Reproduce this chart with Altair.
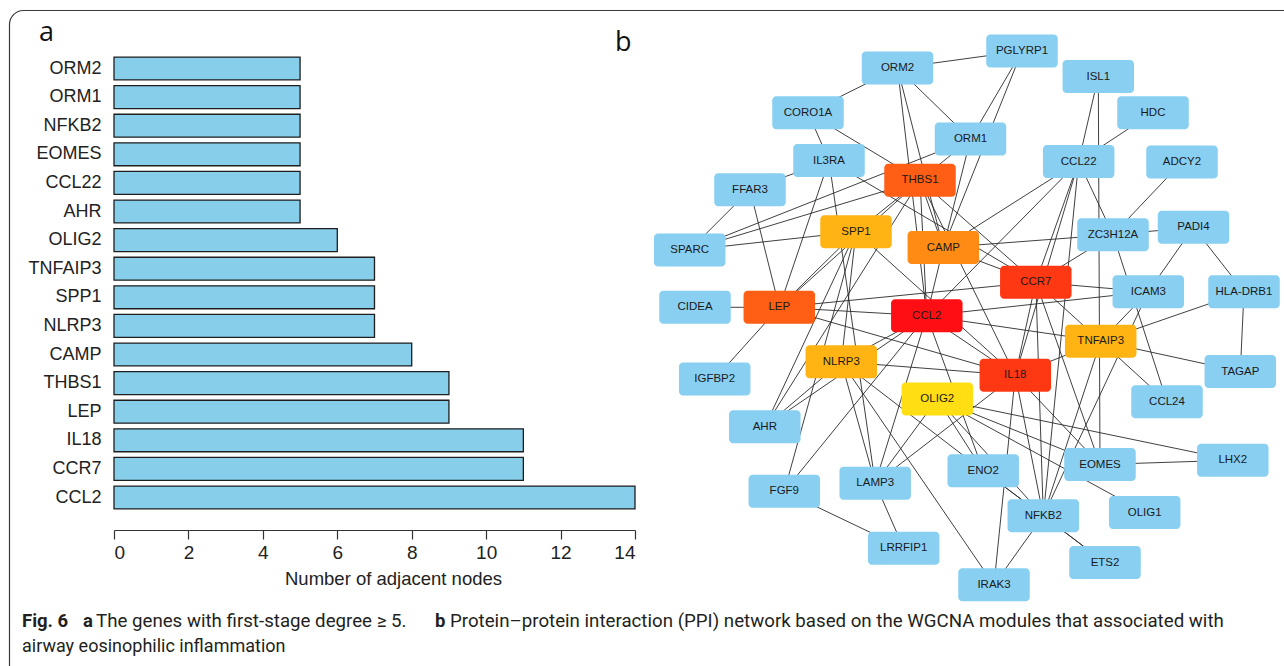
import altair as alt
import pandas as pd

# ---------------- Panel a: bar chart data ----------------
genes = ["ORM2", "ORM1", "NFKB2", "EOMES", "CCL22", "AHR", "OLIG2", "TNFAIP3",
         "SPP1", "NLRP3", "CAMP", "THBS1", "LEP", "IL18", "CCR7", "CCL2"]
degree = [5, 5, 5, 5, 5, 5, 6, 7, 7, 7, 8, 9, 9, 11, 11, 14]
x_ticks = [0, 2, 4, 6, 8, 10, 12, 14]

# ---------------- Panel b: network layout ----------------
node_names = ["PGLYRP1", "ORM2", "ISL1", "CORO1A", "HDC", "ORM1", "IL3RA", "CCL22",
              "ADCY2", "THBS1", "FFAR3", "PADI4", "SPP1", "ZC3H12A", "CAMP", "SPARC",
              "CCR7", "ICAM3", "HLA-DRB1", "CIDEA", "LEP", "CCL2", "TNFAIP3", "NLRP3",
              "TAGAP", "IL18", "IGFBP2", "OLIG2", "CCL24", "AHR", "LHX2", "EOMES",
              "ENO2", "LAMP3", "FGF9", "OLIG1", "NFKB2", "LRRFIP1", "ETS2", "IRAK3"]
node_x = [1022, 897.5, 1098.3, 808, 1153, 970.5, 829, 1078.7,
          1182, 920, 750, 1193.5, 856, 1113, 943.3, 689.7,
          1035.8, 1148.3, 1244, 695, 779.3, 926.8, 1100.7, 841.3,
          1240.3, 1015.3, 714.7, 937.3, 1167, 764.8, 1232.8, 1100,
          983.2, 875.2, 784.3, 1144.7, 1043.3, 903.7, 1105, 994]
node_y = [51, 68, 76.5, 112.7, 112.7, 139, 160.5, 161.5,
          162, 180.3, 189.7, 227.3, 231.7, 234.7, 247.5, 250,
          282.2, 291.7, 291.7, 307.3, 307.3, 315.8, 341.2, 361.8,
          371.5, 375.3, 379, 399, 401.8, 426.7, 460.2, 464.5,
          470.7, 483.3, 491.3, 512.5, 515.8, 548.3, 562.5, 584.8]

# hub genes are coloured by their degree class (others "low")
hub_class = {"CCL2": "14", "CCR7": "11", "IL18": "11", "LEP": "9", "THBS1": "9",
             "CAMP": "8", "SPP1": "7", "NLRP3": "7", "TNFAIP3": "7", "OLIG2": "6"}
class_domain = ["14", "11", "9", "8", "7", "6", "low"]
class_colors = ["#FF0F14", "#FF3814", "#FF5E14", "#FF8A14", "#FFB414", "#FFDE14", "#89CFF2"]

edge_pairs = [
    ("ORM2", "PGLYRP1"), ("ORM2", "CORO1A"), ("ORM2", "ORM1"), ("ORM2", "CAMP"), ("ORM2", "CCL2"),
    ("PGLYRP1", "ORM1"), ("PGLYRP1", "CAMP"),
    ("CORO1A", "IL3RA"), ("CORO1A", "THBS1"),
    ("IL3RA", "FFAR3"), ("IL3RA", "LEP"), ("IL3RA", "LAMP3"), ("IL3RA", "CCR7"),
    ("FFAR3", "SPARC"), ("FFAR3", "LEP"),
    ("SPARC", "SPP1"), ("SPARC", "THBS1"), ("SPARC", "ORM1"),
    ("ORM1", "THBS1"), ("ORM1", "CAMP"),
    ("CIDEA", "LEP"), ("IGFBP2", "LEP"),
    ("ISL1", "CCL22"), ("ISL1", "EOMES"), ("HDC", "CCL22"), ("ADCY2", "ZC3H12A"),
    ("CCL22", "CAMP"), ("CCL22", "CCL2"), ("CCL22", "IL18"), ("CCL22", "CCR7"),
    ("CCL22", "NFKB2"), ("CCL22", "ZC3H12A"),
    ("ZC3H12A", "PADI4"), ("ZC3H12A", "CAMP"), ("ZC3H12A", "CCR7"), ("ZC3H12A", "CCL24"),
    ("PADI4", "ICAM3"), ("PADI4", "HLA-DRB1"),
    ("HLA-DRB1", "TAGAP"), ("HLA-DRB1", "TNFAIP3"), ("TAGAP", "TNFAIP3"),
    ("TNFAIP3", "CCL24"), ("TNFAIP3", "CCR7"), ("TNFAIP3", "IL18"), ("TNFAIP3", "CCL2"),
    ("TNFAIP3", "NFKB2"), ("TNFAIP3", "ICAM3"),
    ("ICAM3", "CCR7"), ("ICAM3", "CCL2"), ("ICAM3", "NFKB2"),
    ("EOMES", "LHX2"), ("EOMES", "OLIG2"), ("EOMES", "CCR7"), ("EOMES", "IL18"),
    ("OLIG2", "OLIG1"), ("OLIG2", "LHX2"), ("OLIG2", "NFKB2"), ("OLIG2", "ENO2"), ("OLIG2", "LAMP3"),
    ("NFKB2", "ETS2"), ("NFKB2", "IRAK3"), ("NFKB2", "ENO2"),
    ("ENO2", "ETS2"), ("ENO2", "NLRP3"), ("ENO2", "CCL2"),
    ("IL18", "IRAK3"), ("IL18", "THBS1"), ("IL18", "CCR7"), ("IL18", "LEP"), ("IL18", "NLRP3"),
    ("IL18", "CCL2"), ("IL18", "LAMP3"), ("IL18", "NFKB2"), ("IL18", "SPP1"),
    ("LAMP3", "LRRFIP1"), ("LAMP3", "NLRP3"), ("LAMP3", "CCL2"),
    ("FGF9", "LRRFIP1"), ("FGF9", "SPP1"), ("FGF9", "CCL2"),
    ("AHR", "NLRP3"), ("AHR", "CCL2"), ("AHR", "SPP1"), ("AHR", "THBS1"),
    ("NLRP3", "SPP1"), ("NLRP3", "CCL2"), ("NLRP3", "IRAK3"),
    ("LEP", "CCL2"), ("LEP", "CCR7"), ("LEP", "THBS1"), ("LEP", "SPP1"),
    ("THBS1", "SPP1"), ("THBS1", "CAMP"), ("THBS1", "CCL2"), ("THBS1", "CCR7"),
    ("CAMP", "CCR7"), ("CAMP", "CCL2"), ("CCR7", "NFKB2"),
]
edge_src = [a for a, b in edge_pairs]
edge_dst = [b for a, b in edge_pairs]

# ---------------- tables ----------------
bar_df = pd.DataFrame({"gene": genes, "degree": degree})

nodes_df = pd.DataFrame({"name": node_names, "x": node_x, "y": node_y})
nodes_df["cls"] = [hub_class.get(n, "low") for n in node_names]
pos = nodes_df.set_index("name")
edges_df = pd.DataFrame({
    "x1": [pos.loc[s, "x"] for s in edge_src],
    "y1": [pos.loc[s, "y"] for s in edge_src],
    "x2": [pos.loc[d, "x"] for d in edge_dst],
    "y2": [pos.loc[d, "y"] for d in edge_dst],
})

W, H = 1284, 666
FONT = "Liberation Sans"
CAP_FONT = "Roboto"

# ---------------- Panel a ----------------
bars = alt.Chart(bar_df).mark_bar(
    fill="#87CEEB", stroke="#1e1e1e", strokeWidth=1.3
).encode(
    x=alt.X("degree:Q",
            scale=alt.Scale(domain=[0, 14], range=[114, 635], nice=False),
            axis=alt.Axis(values=x_ticks, offset=-136, tickSize=9, grid=False,
                          domainColor="#333", tickColor="#333", domainWidth=1.2, tickWidth=1.2,
                          labelFont=FONT, labelFontSize=19, labelColor="#222", labelPadding=4,
                          title="Number of adjacent nodes", titleFont=FONT, titleFontSize=18.5,
                          titleFontWeight="normal", titleColor="#222", titlePadding=7,
                          titleX=393)),
    y=alt.Y("gene:N", sort=genes,
            scale=alt.Scale(range=[54.2, 511.8], paddingInner=0.2, paddingOuter=0.1),
            axis=alt.Axis(offset=-114, ticks=False, domain=False, labelPadding=13,
                          labelFont=FONT, labelFontSize=18, labelColor="#222", title=None)),
)

# ---------------- Panel b ----------------
px_x = alt.Scale(domain=[0, W], range=[0, W], nice=False, zero=False)
px_y = alt.Scale(domain=[0, H], range=[0, H], nice=False, zero=False)

edges = alt.Chart(edges_df).mark_rule(stroke="#2a2a2a", strokeWidth=0.9).encode(
    x=alt.X("x1:Q", scale=px_x, axis=None),
    y=alt.Y("y1:Q", scale=px_y, axis=None),
    x2="x2:Q", y2="y2:Q",
)

nodes = alt.Chart(nodes_df).transform_calculate(
    xl="datum.x - 35.75", xr="datum.x + 35.75", yt="datum.y - 16.5", yb="datum.y + 16.5"
).mark_rect(cornerRadius=4).encode(
    x=alt.X("xl:Q", scale=px_x, axis=None),
    x2="xr:Q",
    y=alt.Y("yt:Q", scale=px_y, axis=None),
    y2="yb:Q",
    color=alt.Color("cls:N", scale=alt.Scale(domain=class_domain, range=class_colors), legend=None),
)

node_text = alt.Chart(nodes_df).mark_text(
    font=FONT, fontSize=11.5, color="#1a1a1a", baseline="middle", align="center"
).encode(
    x=alt.X("x:Q", scale=px_x, axis=None),
    y=alt.Y("y:Q", scale=px_y, axis=None),
    text="name:N",
)

one = pd.DataFrame({"k": [0]})

border = alt.Chart(one).mark_rect(
    fillOpacity=0, fill="white", stroke="#3a3a3a", strokeWidth=1.2, cornerRadius=14
).encode(x=alt.value(9.5), x2=alt.value(W + 40), y=alt.value(10.5), y2=alt.value(H + 40))


def label(txt, x, y, size, weight="normal", font="Open Sans", color="#111"):
    return alt.Chart(one).mark_text(
        text=txt, font=font, fontSize=size, fontWeight=weight, color=color,
        align="left", baseline="middle"
    ).encode(x=alt.value(x), y=alt.value(y))


panel_a = label("a", 39, 33, 27)
panel_b = label("b", 615, 43, 27)

CAP_COL = "#231f20"
cap = [
    label("Fig. 6", 22, 621, 18.5, "bold", CAP_FONT, CAP_COL),
    label("a", 83, 621, 18.5, "bold", CAP_FONT, CAP_COL),
    label("The genes with first-stage degree \u2265 5.", 96, 621, 18.7, "normal", CAP_FONT, CAP_COL),
    label("b", 435, 621, 18.5, "bold", CAP_FONT, CAP_COL),
    label("Protein\u2013protein interaction (PPI) network based on the WGCNA modules that associated with",
          450, 621, 18.7, "normal", CAP_FONT, CAP_COL),
    label("airway eosinophilic inflammation", 22, 647, 18, "normal", CAP_FONT, CAP_COL),
]

network = alt.layer(border, edges, nodes, node_text, panel_a, panel_b, *cap)

chart = alt.layer(bars, network).resolve_scale(
    x="independent", y="independent", color="independent"
).properties(
    width=W, height=H, autosize=alt.AutoSizeParams(type="none"), padding=0,
    background="white"
).configure_view(stroke=None)

chart.save("out.html", embed_options={"renderer": "svg", "actions": False})
